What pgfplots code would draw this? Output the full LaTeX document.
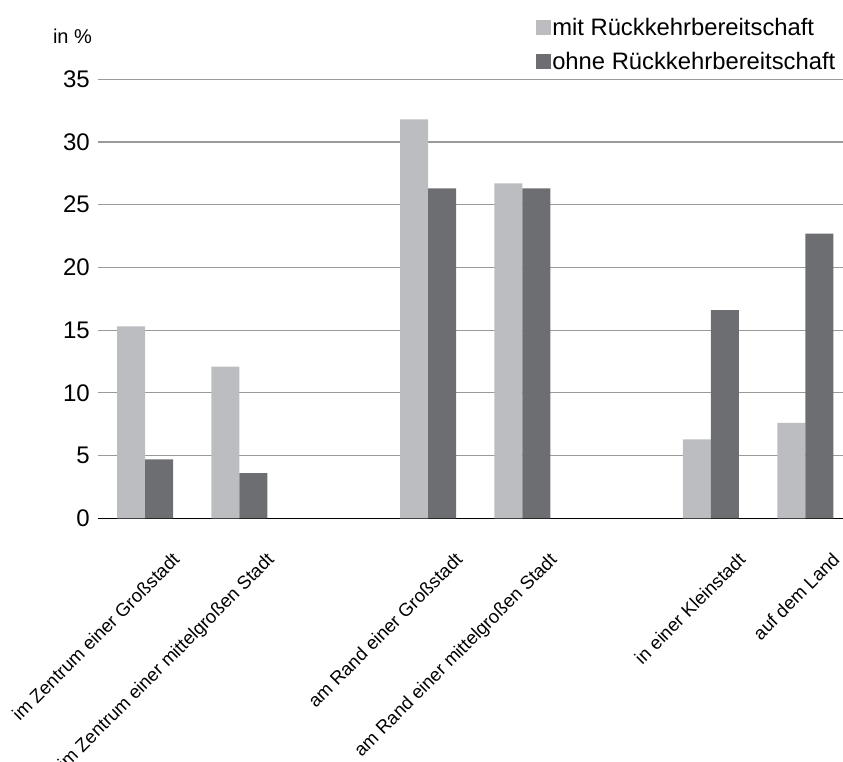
\documentclass[border=0pt]{standalone}
\usepackage{pgfplots}
\pgfplotsset{compat=1.18}
\usepackage{fontspec}
\setmainfont{Liberation Sans}
\definecolor{mitc}{HTML}{BCBDC1}
\definecolor{ohnec}{HTML}{6D6E71}
\definecolor{gridc}{HTML}{9A9A9A}
\begin{document}
\begin{tikzpicture}
\useasboundingbox (0,0) rectangle (843pt,762pt);
\begin{axis}[
 at={(98pt,243.7pt)}, anchor=south west,
 scale only axis, width=745pt, height=439pt,
 ybar=0pt, bar width=28pt,
 xmin=-0.5, xmax=7.4, ymin=0, ymax=35,
 xtick={0,1,3,4,6,7},
 xticklabels={im Zentrum einer Großstadt, im Zentrum einer mittelgroßen Stadt, am Rand einer Großstadt, am Rand einer mittelgroßen Stadt, in einer Kleinstadt, auf dem Land},
 ytick={0,5,...,35},
 axis x line=bottom, axis y line=left,
 y axis line style={draw=none},
 x axis line style={draw=black, line width=1.4pt, -},
 major tick length=0pt,
 ymajorgrids, grid style={gridc, line width=1.2pt},
 /pgf/number format/assume math mode=true,
 yticklabel style={font=\fontsize{24}{24}\selectfont, inner sep=0pt, xshift=-8pt},
 xticklabel style={font=\fontsize{18.5}{18.5}\selectfont, xshift=26pt, yshift=-33pt, rotate=45, anchor=north east, inner sep=0pt},
 legend style={at={(axis description cs:0.588,1.141)}, anchor=north west, draw=none, fill=none, inner sep=0pt, font=\fontsize{23.8}{23.8}\selectfont, row sep=13pt, nodes={inner sep=1pt}},
 legend cell align=left,
]
\addplot[fill=mitc, draw=none, legend image code/.code={\path[fill=mitc] (0pt,-7.5pt) rectangle (15pt,7.5pt);}] coordinates {(0,15.3)(1,12.1)(3,31.8)(4,26.7)(6,6.3)(7,7.6)};
\addplot[fill=ohnec, draw=none, legend image code/.code={\path[fill=ohnec] (0pt,-7.5pt) rectangle (15pt,7.5pt);}] coordinates {(0,4.7)(1,3.6)(3,26.3)(4,26.3)(6,16.6)(7,22.7)};
\legend{mit Rückkehrbereitschaft, ohne Rückkehrbereitschaft}
\end{axis}
\node[font=\fontsize{20}{20}\selectfont, anchor=center] at (72.5pt,725.5pt) {in \%};
\end{tikzpicture}
\end{document}
